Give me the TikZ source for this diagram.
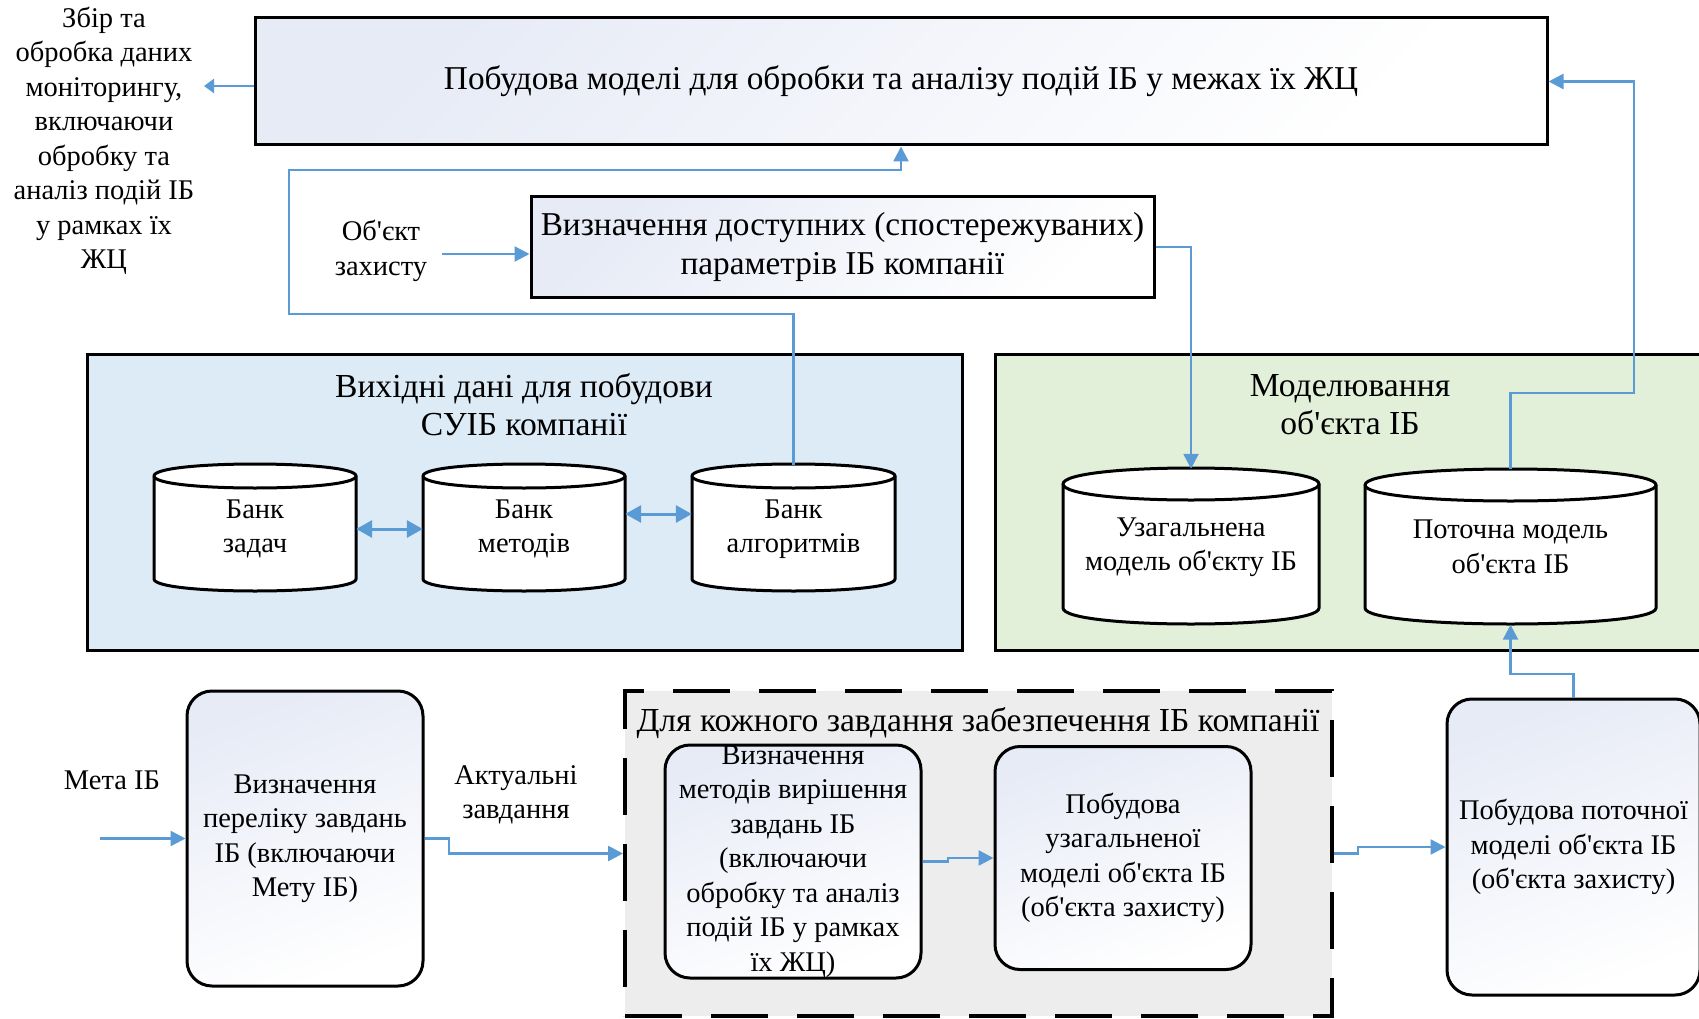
\documentclass[tikz,border=0pt]{standalone}
\usepackage{fontspec}
\newfontfamily\tnr{Liberation Serif}
\usetikzlibrary{arrows.meta}
\definecolor{cblue}{HTML}{5B9BD5}
\definecolor{gblue}{HTML}{E7EBF6}
\definecolor{lblue}{HTML}{DDEBF7}
\definecolor{lgreen}{HTML}{E2F0D9}
\definecolor{lgray}{HTML}{EDEDED}
\newcommand\drawcyl[5]{%
  \filldraw[cylline] (#1,{#2+#5}) .. controls (#1,{#2-#5/3}) and (#3,{#2-#5/3}) .. (#3,{#2+#5})
    -- (#3,{#4-#5}) .. controls (#3,{#4+#5/3}) and (#1,{#4+#5/3}) .. (#1,{#4-#5}) -- cycle;
  \draw[cylline] (#1,{#2+#5}) .. controls (#1,{#2+7*#5/3}) and (#3,{#2+7*#5/3}) .. (#3,{#2+#5});
}
\begin{document}
\begin{tikzpicture}[x=1pt,y=-1pt,
  txt/.style={align=center, inner sep=0pt, font=\tnr\fontsize{28.5}{34.5}\selectfont},
  bigtxt/.style={txt, font=\tnr\fontsize{33.3}{39}\selectfont},
  ttltxt/.style={txt, font=\tnr\fontsize{33.6}{38}\selectfont},
  gradbox/.style={draw, line width=3pt, top color=gblue, middle color=gblue!25!white, bottom color=white, shading angle=45, inner sep=0pt},
  roundbox/.style={gradbox, rounded corners=25pt, shading angle=20},
  panel/.style={draw, line width=3pt, inner sep=0pt},
  cylline/.style={draw, fill=white, line width=3pt},
  cyltext/.style={txt},
  conn/.style={draw=cblue, line width=2.5pt, -{Triangle[length=15pt,width=15pt]}},
  smallconn/.style={conn, -{Triangle[length=10pt,width=14pt]}},
  dconn/.style={draw=cblue, line width=3pt, {Triangle[length=16pt,width=17pt]}-{Triangle[length=16pt,width=17pt]}}
]
\useasboundingbox (0,0) rectangle (1699,1019);
\clip (0,0) rectangle (1699,1019);
\fill[white] (0,0) rectangle (1699,1019);

% panels
\node[panel, fill=lblue, minimum width=875pt, minimum height=296pt] (lpanel) at (524.5,502) {};
\node[panel, fill=lgreen, minimum width=717pt, minimum height=296pt] (rpanel) at (1353.5,502) {};
\node[ttltxt] (ltitle) at (524,405) {Вихідні дані для побудови\\СУІБ компанії};
\node[ttltxt] (rtitle) at (1350,405) {Моделювання\\об'єкта ІБ};

% cylinders
\drawcyl{154}{464}{356}{591}{12}
\drawcyl{423}{464}{625}{591}{12}
\drawcyl{692}{464}{895}{591}{12}
\drawcyl{1063}{468}{1319}{624}{16}
\drawcyl{1365}{469}{1656}{624}{16}
\node[cyltext, minimum width=202pt, minimum height=127pt] (bz) at (255,529) {Банк\\задач};
\node[cyltext, minimum width=202pt, minimum height=127pt] (bm) at (524,529) {Банк\\методів};
\node[cyltext, minimum width=203pt, minimum height=127pt] (ba) at (793.5,529) {Банк\\алгоритмів};
\node[cyltext, minimum width=256pt, minimum height=156pt] (uz) at (1191,547) {Узагальнена\\модель об'єкту ІБ};
\node[cyltext, minimum width=291pt, minimum height=155pt] (pm) at (1510.5,547) {Поточна модель\\об'єкта ІБ};

% top boxes
\node[gradbox, bigtxt, minimum width=1292pt, minimum height=127pt] (top) at (901,81.5)
  {Побудова моделі для обробки та аналізу подій ІБ у межах їх ЖЦ};
\node[gradbox, bigtxt, minimum width=623pt, minimum height=100pt] (def) at (842.5,247)
  {Визначення доступних (спостережуваних)\\параметрів ІБ компанії};
\node[txt] (collect) at (104,141) {Збір та\\обробка даних\\моніторингу,\\включаючи\\обробку та\\аналіз подій ІБ\\у рамках їх\\ЖЦ};
\node[txt] (obj) at (381,251) {Об'єкт\\захисту};

% bottom row
\node[txt] (meta) at (112,780) {Мета ІБ};
\node[roundbox, txt, minimum width=236pt, minimum height=295pt] (goal) at (305,838.5)
  {Визначення\\переліку завдань\\ІБ (включаючи\\Мету ІБ)};
\node[txt] (act) at (516,795) {Актуальні\\завдання};
\node[panel, fill=lgray, line width=4pt, dash pattern=on 57pt off 29pt, minimum width=707pt, minimum height=325pt] (dbox) at (978.5,853.5) {};
\node[ttltxt] (dtitle) at (978,723) {Для кожного завдання забезпечення ІБ компанії};
\node[roundbox, minimum width=256pt, minimum height=233pt,
  label={[txt]center:{Визначення\\методів вирішення\\завдань ІБ\\(включаючи\\обробку та аналіз\\подій ІБ у рамках\\їх ЖЦ)}}] (m1) at (793,861.5) {};
\node[roundbox, txt, minimum width=256pt, minimum height=223pt] (m2) at (1123,858)
  {Побудова\\узагальненої\\моделі об'єкта ІБ\\(об'єкта захисту)};
\node[roundbox, txt, minimum width=253pt, minimum height=296pt] (rbox) at (1573.5,847)
  {Побудова поточної\\моделі об'єкта ІБ\\(об'єкта захисту)};

% connectors
\coordinate (lt) at (204,86);
\draw[smallconn] (lt -| top.west) -- (lt);
\coordinate (os) at (442,254);
\draw[conn] (os) -- (os -| def.west);
\draw[conn] (ba.north) -- (793.5,314) -| (289,170) -| (top.south);
\draw[conn] (def.east) -| (uz.north);
\draw[conn] (pm.north) |- (1634,393) |- (top.east);
\draw[dconn] (bz.east) -- (bm.west);
\draw[dconn] ([yshift=15pt]bm.east) -- ([yshift=15pt]ba.west);
\coordinate (ms) at (100,838.5);
\draw[conn] (ms) -- (goal.west);
\draw[conn] (goal.east) -- (449,838.5) |- (dbox.west);
\draw[conn] (m1.east) -- (948,861.5) |- (m2.west);
\draw[conn] (dbox.east) -- (1358,853.5) |- (rbox.west);
\draw[conn] (rbox.north) -- (1573.5,674) -| (pm.south);
\end{tikzpicture}
\end{document}
